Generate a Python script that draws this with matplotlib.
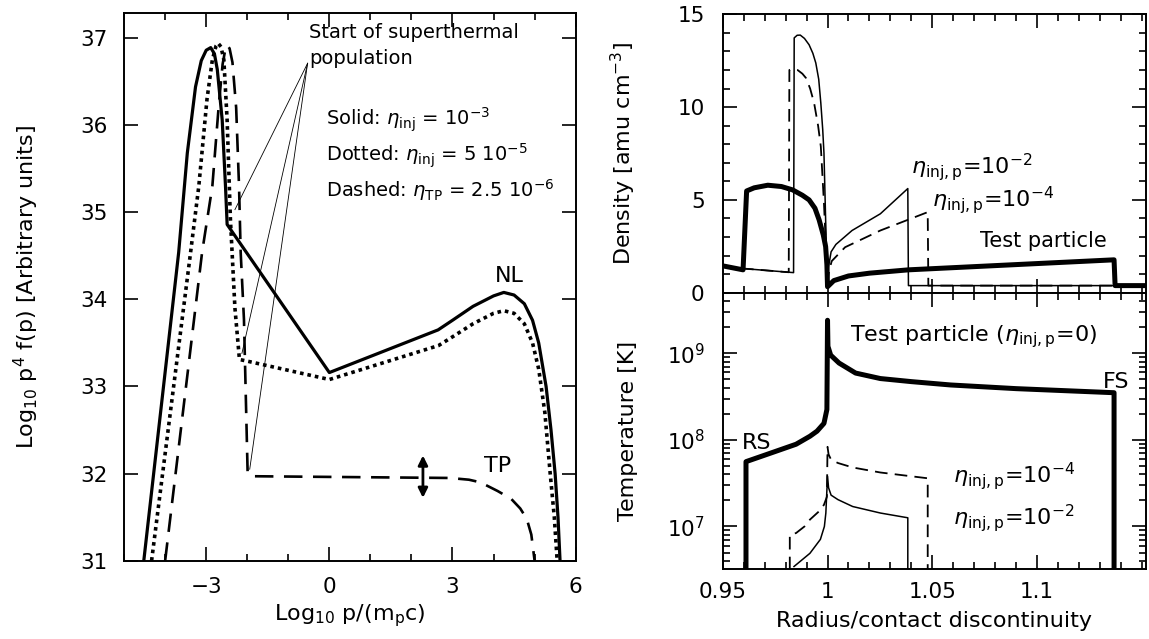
import matplotlib
matplotlib.use("Agg")
import matplotlib.pyplot as plt
from matplotlib.ticker import MultipleLocator, FixedLocator, FuncFormatter, LogLocator, NullFormatter

plt.rcParams['font.family'] = ['DejaVu Sans']
plt.rcParams['mathtext.fontset'] = 'dejavusans'

# ---- left panel: spectra, log10 p/(mp c) vs log10 p^4 f(p)
nl_x = [-4.52, -3.67, -3.46, -3.26, -3.12, -3.0, -2.89, -2.80, -2.73, -2.61, -2.53, -2.49,
        0.0, 2.65, 3.0, 3.5, 4.0, 4.25, 4.5, 4.75, 4.95, 5.1, 5.28, 5.4, 5.5, 5.57, 5.62]
nl_y = [31.0, 34.54, 35.68, 36.44, 36.74, 36.86, 36.89, 36.82, 36.64, 36.06, 35.30, 34.86,
        33.16, 33.65, 33.76, 33.92, 34.04, 34.08, 34.05, 33.95, 33.76, 33.5, 33.0, 32.5, 32.0, 31.5, 31.0]

dot_x = [-4.33, -3.38, -3.18, -2.98, -2.85, -2.76, -2.71, -2.64, -2.57, -2.49, -2.41, -2.3, -2.19, -1.99,
         0.0, 2.66, 3.0, 3.5, 4.0, 4.25, 4.5, 4.75, 4.95, 5.1, 5.25, 5.38, 5.48, 5.55]
dot_y = [31.0, 34.54, 35.30, 36.30, 36.75, 36.91, 36.94, 36.90, 36.75, 36.06, 34.92, 33.9, 33.31, 33.29,
         33.08, 33.47, 33.57, 33.72, 33.84, 33.87, 33.84, 33.72, 33.5, 33.2, 32.7, 32.0, 31.5, 31.0]

tp_x = [-4.0, -3.10, -2.85, -2.69, -2.60, -2.53, -2.49, -2.43, -2.36, -2.27, -2.20, -2.16, -2.08, -1.99, -1.9,
        2.93, 3.4, 3.68, 4.1, 4.43, 4.65, 4.81, 4.92, 5.0]
tp_y = [31.0, 34.54, 35.30, 36.25, 36.70, 36.88, 36.92, 36.88, 36.72, 36.2, 35.30, 34.54, 33.77, 32.0, 31.97,
        31.95, 31.93, 31.90, 31.8, 31.71, 31.6, 31.48, 31.3, 31.0]

kink_x = [-2.30, -2.13, -1.94]
kink_y = [35.03, 33.38, 32.05]

# ---- right top: density
r_tp = [0.9493, 0.9597, 0.9614, 0.9650, 0.9715, 0.978, 0.9833, 0.9880, 0.9912, 0.994, 0.996, 0.998,
        0.9991, 0.9997, 1.0, 1.003, 1.01, 1.02, 1.0386, 1.1367, 1.1372, 1.152]
n_tp = [1.46, 1.23, 5.48, 5.65, 5.79, 5.72, 5.54, 5.25, 5.0, 4.55, 3.92, 3.1,
        2.48, 1.5, 0.32, 0.65, 0.9, 1.05, 1.23, 1.77, 0.38, 0.38]

r_e2 = [0.9493, 0.9597, 0.9838, 0.9841, 0.9855, 0.9870, 0.9890, 0.9912, 0.9930, 0.9944, 0.9958, 0.9968,
        0.9977, 0.9983, 0.9991, 0.9996, 1.0, 1.0005, 1.0017, 1.004, 1.0117, 1.0252, 1.0383, 1.0386, 1.152]
n_e2 = [1.46, 1.30, 1.08, 13.73, 13.87, 13.88, 13.7, 13.36, 12.9, 12.38, 11.5, 10.22,
        8.8, 7.52, 3.92, 2.0, 0.5, 1.4, 2.2, 2.6, 3.35, 4.25, 5.61, 0.38, 0.38]

r_e4 = [0.9493, 0.9597, 0.9815, 0.9818, 0.983, 0.9857, 0.9880, 0.9897, 0.9917, 0.9936, 0.9955, 0.9968,
        0.9983, 0.9993, 1.0, 1.0008, 1.002, 1.0084, 1.0252, 1.0478, 1.0481, 1.152]
n_e4 = [1.46, 1.30, 1.10, 12.0, 12.05, 12.0, 11.8, 11.57, 11.0, 10.22, 9.0, 7.88,
        4.82, 2.3, 0.5, 1.2, 1.7, 2.45, 3.35, 4.34, 0.38, 0.38]

# ---- right bottom: temperature
rt_tp = [0.9611, 0.9611, 0.9748, 0.985, 0.9916, 0.995, 0.9983, 0.9997, 1.0, 1.0002, 1.0015,
         1.0055, 1.0134, 1.0252, 1.04, 1.0587, 1.09, 1.1367, 1.1367]
t_tp = [3.2e6, 5.6e7, 7.3e7, 8.9e7, 1.1e8, 1.26e8, 1.55e8, 2.24e8, 2.4e9, 1.2e9, 9.5e8,
        7.7e8, 5.9e8, 5.1e8, 4.7e8, 4.3e8, 3.9e8, 3.5e8, 3.2e6]

rt_e4 = [0.982, 0.982, 0.985, 0.989, 0.9916, 0.996, 0.9983, 0.9997, 1.0, 1.0005, 1.0017,
         1.005, 1.012, 1.0252, 1.0478, 1.0478]
t_e4 = [3.2e6, 8.0e6, 8.4e6, 1.0e7, 1.2e7, 1.5e7, 1.78e7, 2.2e7, 8.3e7, 6.8e7, 5.9e7,
        5.4e7, 4.8e7, 4.2e7, 3.6e7, 3.2e6]

rt_e2 = [0.984, 0.9916, 0.9966, 0.9985, 0.9992, 1.0, 1.0005, 1.0017, 1.005, 1.012, 1.0252, 1.0383, 1.0383]
t_e2 = [3.45e6, 4.9e6, 7.1e6, 1.0e7, 1.43e7, 3.8e7, 2.8e7, 2.3e7, 2.04e7, 1.7e7, 1.43e7, 1.26e7, 3.2e6]

fig = plt.figure(figsize=(11.49, 6.39), dpi=100)

tick_kw = dict(direction='in', top=True, right=True, labelsize=15.5, width=1.2)

# left panel
ax = fig.add_axes([0.108, 0.1225, 0.393, 0.8575])
ax.plot(nl_x, nl_y, color='black', lw=2.3)
ax.plot(dot_x, dot_y, color='black', lw=2.6, linestyle=(0, (1, 1.1)))
ax.plot(tp_x, tp_y, color='black', lw=1.9, linestyle=(0, (7, 4)))
for kx, ky in zip(kink_x, kink_y):
    ax.plot([-0.53, kx], [36.71, ky], color='black', lw=0.6)
ax.annotate('', xy=(2.28, 31.69), xytext=(2.28, 32.24),
            arrowprops=dict(arrowstyle='<|-|>', color='black', lw=2, mutation_scale=14))
ax.text(-0.5, 37.06, 'Start of superthermal', fontsize=14, va='center')
ax.text(-0.5, 36.76, 'population', fontsize=14, va='center')
ax.text(-0.08, 36.06, r'Solid: $\eta_{\rm inj}$ = 10$^{-3}$', fontsize=14, va='center')
ax.text(-0.08, 35.65, r'Dotted: $\eta_{\rm inj}$ = 5 10$^{-5}$', fontsize=14, va='center')
ax.text(-0.08, 35.26, r'Dashed: $\eta_{\rm TP}$ = 2.5 10$^{-6}$', fontsize=14, va='center')
ax.text(4.39, 34.27, 'NL', fontsize=16, ha='center', va='center')
ax.text(4.1, 32.09, 'TP', fontsize=16, ha='center', va='center')
ax.set_xlim(-5, 6)
ax.set_ylim(31, 37.29)
ax.xaxis.set_major_locator(FixedLocator([-3, 0, 3, 6]))
ax.xaxis.set_minor_locator(MultipleLocator(1))
ax.xaxis.set_major_formatter(FuncFormatter(lambda v, p: '%d' % v if v >= 0 else '\u2212%d' % -v))
ax.yaxis.set_major_locator(MultipleLocator(1))
ax.tick_params(which='major', length=10, pad=12, **tick_kw)
ax.tick_params(which='minor', length=5, direction='in', top=True, right=True, width=1.2)
ax.set_xlabel(r'Log$_{10}$ p/(m$_{\rm p}$c)', fontsize=16)
ax.set_ylabel(r'Log$_{10}$ p$^4$ f(p) [Arbitrary units]', fontsize=16)
ax.yaxis.set_label_coords(-0.185, 0.5)
ax.xaxis.set_label_coords(0.5, -0.075)
for s in ax.spines.values():
    s.set_linewidth(1.4)

# right top: density
ax1 = fig.add_axes([0.629, 0.542, 0.3685, 0.4356])
ax1.plot(r_e2, n_e2, color='black', lw=1.1)
ax1.plot(r_e4, n_e4, color='black', lw=1.3, linestyle=(0, (7, 4)))
ax1.plot(r_tp, n_tp, color='black', lw=3.6)
ax1.text(1.0688, 6.78, r'$\eta_{\rm inj,p}$=10$^{-2}$', fontsize=16, ha='center', va='center')
ax1.text(1.0789, 4.98, r'$\eta_{\rm inj,p}$=10$^{-4}$', fontsize=16, ha='center', va='center')
ax1.text(1.1032, 2.81, 'Test particle', fontsize=15, ha='center', va='center')
ax1.set_xlim(0.95, 1.152)
ax1.set_ylim(0, 15)
ax1.xaxis.set_major_locator(FixedLocator([0.95, 1.0, 1.05, 1.1]))
ax1.xaxis.set_minor_locator(MultipleLocator(0.01))
ax1.yaxis.set_major_locator(MultipleLocator(5))
ax1.yaxis.set_minor_locator(MultipleLocator(1))
ax1.tick_params(which='major', length=10, pad=13, labelbottom=False, **tick_kw)
ax1.tick_params(which='minor', length=5, direction='in', top=True, right=True, width=1.2)
ax1.set_ylabel(r'Density [amu cm$^{-3}$]', fontsize=16)

# right bottom: temperature
ax2 = fig.add_axes([0.629, 0.109, 0.3685, 0.433])
ax2.plot(rt_e2, t_e2, color='black', lw=1.1)
ax2.plot(rt_e4, t_e4, color='black', lw=1.3, linestyle=(0, (7, 4)))
ax2.plot(rt_tp, t_tp, color='black', lw=3.6)
ax2.text(1.0696, 10**9.19, r'Test particle ($\eta_{\rm inj,p}$=0)', fontsize=16, ha='center', va='center')
ax2.text(0.9664, 10**7.96, 'RS', fontsize=16, ha='center', va='center')
ax2.text(1.1376, 10**8.67, 'FS', fontsize=16, ha='center', va='center')
ax2.text(1.0889, 10**7.58, r'$\eta_{\rm inj,p}$=10$^{-4}$', fontsize=16, ha='center', va='center')
ax2.text(1.0889, 10**7.10, r'$\eta_{\rm inj,p}$=10$^{-2}$', fontsize=16, ha='center', va='center')
ax2.set_yscale('log')
ax2.set_xlim(0.95, 1.152)
ax2.set_ylim(3.2e6, 5.0e9)
ax2.xaxis.set_major_locator(FixedLocator([0.95, 1.0, 1.05, 1.1]))
ax2.xaxis.set_minor_locator(MultipleLocator(0.01))
ax2.xaxis.set_major_formatter(FuncFormatter(lambda v, p: '%g' % round(v, 3)))
ax2.yaxis.set_major_locator(LogLocator(base=10, numticks=10))
ax2.yaxis.set_minor_locator(LogLocator(base=10, subs=range(2, 10), numticks=10))
ax2.yaxis.set_minor_formatter(NullFormatter())
ax2.tick_params(which='major', length=10, pad=13, **tick_kw)
ax2.tick_params(which='minor', length=5, direction='in', top=True, right=True, width=1.2)
ax2.tick_params(axis='x', which='major', pad=9)
ax2.set_xlabel('Radius/contact discontinuity', fontsize=16)
ax2.xaxis.set_label_coords(0.5, -0.15)
ax2.set_ylabel('Temperature [K]', fontsize=16)

for a in (ax1, ax2):
    for s in a.spines.values():
        s.set_linewidth(1.4)
    a.yaxis.set_label_coords(-0.20, 0.5)

fig.savefig('out.png', dpi=100)
